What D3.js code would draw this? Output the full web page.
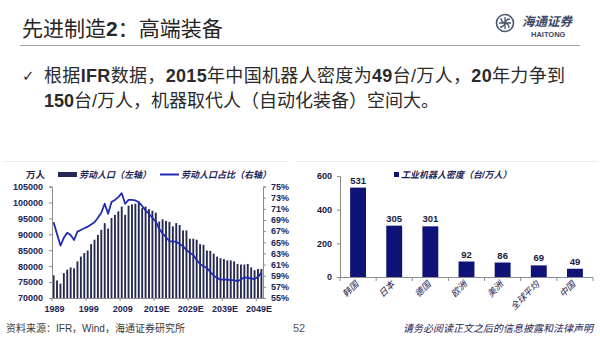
<!DOCTYPE html>
<html><head><meta charset="utf-8">
<script src="https://cdn.jsdelivr.net/npm/d3@7"></script>
<style>body{margin:0;background:#fff;}svg{display:block;}</style>
</head><body>
<script>
// ---------------- data ----------------
const years = [1989,1990,1991,1992,1993,1994,1995,1996,1997,1998,1999,2000,2001,2002,2003,2004,2005,2006,2007,2008,2009,2010,2011,2012,2013,2014,2015,2016,2017,2018,2019,2020,2021,2022,2023,2024,2025,2026,2027,2028,2029,2030,2031,2032,2033,2034,2035,2036,2037,2038,2039,2040,2041,2042,2043,2044,2045,2046,2047,2048,2049,2050];
const laborPop = [77100,75500,74500,77800,78900,79600,79300,81500,83000,84100,84900,86900,88300,89800,91400,93500,91800,95100,96100,97200,98700,96100,99000,99400,99600,99800,98200,98700,97900,97400,96800,94000,94700,94200,93900,92500,93500,92900,91200,91200,88600,88600,88300,86900,86700,84900,84800,83900,83000,82500,82200,81800,81800,81500,80700,80500,80500,80700,79600,78700,79100,79100];
const laborShare = [68.6,66.5,64.4,65.8,66.7,66.3,65.4,66.9,67.2,67.5,67.8,68.2,68.6,69.4,70.3,71.9,70.1,72.2,72.6,73.1,73.8,71.9,72.6,72.6,72.5,72.2,71.5,70.7,70.1,69.4,68.7,67.4,66.6,65.9,65.2,65.1,65.1,64.7,64.3,63.6,63.1,62.7,61.8,61.1,60.7,60.4,59.7,59.0,58.6,58.3,58.3,58.3,58.2,58.2,58.0,58.3,58.7,58.6,58.5,58.4,58.8,59.5];
const xTickYears = [1989,1999,2009,2019,2029,2039,2049];
const xTickLabels = ["1989","1999","2009","2019E","2029E","2039E","2049E"];
const leftTicks = [70000,75000,80000,85000,90000,95000,100000,105000];
const rightTicks = [55,57,59,61,63,65,67,69,71,73,75];

const regions = ["韩国","日本","德国","欧洲","美洲","全球平均","中国"];
const density = [531,305,301,92,86,69,49];
const densityTicks = [0,200,400,600];

// ---------------- setup ----------------
const W = 600, H = 338;
const svg = d3.select("body").append("svg").attr("width", W).attr("height", H);
const CJK = "'Liberation Sans','Noto Sans CJK SC',sans-serif";
const navy = "#1b2456";

// header
svg.append("text").attr("x", 22).attr("y", 36)
  .attr("font-family", CJK).attr("font-size", 21).attr("fill", "#262626")
  .call(t => {
    t.append("tspan").text("先进制造");
    t.append("tspan").attr("font-weight", "bold").text("2");
    t.append("tspan").text("：高端装备");
  });
svg.append("line").attr("x1", 20).attr("x2", 580).attr("y1", 45.5).attr("y2", 45.5)
  .attr("stroke", "#a6a6a6").attr("stroke-width", 1);

// logo
const logo = svg.append("g").attr("transform", "translate(505,23)");
logo.append("circle").attr("r", 8.5).attr("fill", "none").attr("stroke", "#4a5670").attr("stroke-width", 1.6);
logo.append("path").attr("d", "M-6,0 H6 M0,-6 V6 M-4,-5 Q-4,-1 0,0 M4,5 Q4,1 0,0 M5,-4 Q1,-4 0,0 M-5,4 Q-1,4 0,0")
  .attr("fill", "none").attr("stroke", "#4a5670").attr("stroke-width", 1.3);
svg.append("text").attr("x", 522).attr("y", 26).attr("font-family", CJK)
  .attr("font-size", 12.5).attr("font-style", "italic").attr("font-weight", "bold")
  .attr("fill", "#3c4866").text("海通证券");
svg.append("text").attr("x", 531).attr("y", 37).attr("font-family", "'Liberation Sans',sans-serif")
  .attr("font-size", 7.5).attr("font-weight", "bold").attr("fill", "#3c4866").text("HAITONG");

// bullet text
svg.append("text").attr("x", 22).attr("y", 81).attr("font-family", "'DejaVu Sans',sans-serif")
  .attr("font-size", 15).attr("fill", "#333").text("✓");
function richLine(y, segs, len) {
  const t = svg.append("text").attr("x", 44).attr("y", y)
    .attr("font-family", CJK).attr("font-size", 18).attr("fill", "#2b2b2b");
  if (len) t.attr("textLength", len).attr("lengthAdjust", "spacing");
  segs.forEach(s => t.append("tspan").attr("font-weight", s[1] ? "bold" : "normal").text(s[0]));
  return t;
}
richLine(82, [["根据",0],["IFR",1],["数据，",0],["2015",1],["年中国机器人密度为",0],["49",1],["台/万人，",0],["20",1],["年力争到",0]], 521);
richLine(107, [["150",1],["台/万人，机器取代人（自动化装备）空间大。",0]]);

// faint chart frame tops
svg.append("line").attr("x1", 4).attr("x2", 288).attr("y1", 161.5).attr("y2", 161.5).attr("stroke", "#ececec");
svg.append("line").attr("x1", 296).attr("x2", 598).attr("y1", 161.5).attr("y2", 161.5).attr("stroke", "#ececec");

// ---------------- left chart ----------------
const xL = d3.scaleBand().domain(years).range([52, 263]).paddingInner(0.45).paddingOuter(0.2);
const yL = d3.scaleLinear().domain([70000, 105000]).range([298, 186.5]);
const yS = d3.scaleLinear().domain([55, 75]).range([298, 186.5]);
const axisFont = g => g.selectAll("text").attr("font-family", "'Liberation Sans',sans-serif")
  .attr("font-size", 9).attr("font-weight", "bold").attr("fill", navy);

svg.append("g").selectAll("rect").data(years).join("rect")
  .attr("x", d => xL(d)).attr("width", xL.bandwidth())
  .attr("y", (d, i) => yL(laborPop[i])).attr("height", (d, i) => yL(70000) - yL(laborPop[i]))
  .attr("fill", "#25284f");

const lineGen = d3.line().x((d, i) => xL(years[i]) + xL.bandwidth() / 2).y(d => yS(d));
svg.append("path").datum(laborShare).attr("d", lineGen)
  .attr("fill", "none").attr("stroke", "#1f2bb0").attr("stroke-width", 1.8).attr("stroke-linejoin", "round");

const gLa = svg.append("g").attr("transform", "translate(52,0)")
  .call(d3.axisLeft(yL).tickValues(leftTicks).tickFormat(d => d).tickSize(3).tickPadding(6));
const gRa = svg.append("g").attr("transform", "translate(263,0)")
  .call(d3.axisRight(yS).tickValues(rightTicks).tickFormat(d => d + "%").tickSize(3).tickPadding(5));
const gBa = svg.append("g").attr("transform", "translate(0,298)")
  .call(d3.axisBottom(xL).tickValues(xTickYears).tickFormat((d, i) => xTickLabels[i]).tickSize(0).tickPadding(8));
[gLa, gRa, gBa].forEach(g => { axisFont(g); g.selectAll("path,line").attr("stroke", "#8c8c8c"); });
gBa.selectAll(".tick").attr("transform", d => `translate(${xL(d) + xL.bandwidth() / 2 + 1},0)`);
svg.append("g").selectAll("line").data(xTickYears).join("line")
  .attr("x1", d => xL(d) - xL.step() * xL.paddingInner() / 2).attr("x2", d => xL(d) - xL.step() * xL.paddingInner() / 2)
  .attr("y1", 298).attr("y2", 301).attr("stroke", "#8c8c8c");

// left legend
svg.append("text").attr("x", 26).attr("y", 178).attr("font-family", CJK).attr("font-size", 9.5)
  .attr("font-weight", "bold").attr("fill", navy).text("万人");
svg.append("rect").attr("x", 58).attr("y", 172).attr("width", 19).attr("height", 5).attr("fill", "#25284f");
svg.append("text").attr("x", 79).attr("y", 178).attr("font-family", CJK).attr("font-size", 9)
  .attr("font-style", "italic").attr("font-weight", "bold").attr("fill", navy).text("劳动人口（左轴）");
svg.append("line").attr("x1", 160).attr("x2", 179).attr("y1", 174.5).attr("y2", 174.5)
  .attr("stroke", "#1f2bb0").attr("stroke-width", 2);
svg.append("text").attr("x", 181).attr("y", 178).attr("font-family", CJK).attr("font-size", 9)
  .attr("font-style", "italic").attr("font-weight", "bold").attr("fill", navy).text("劳动人口占比（右轴）");

// ---------------- right chart ----------------
const xR = d3.scaleBand().domain(regions).range([340, 593]).paddingInner(0.56).paddingOuter(0.28);
const yR = d3.scaleLinear().domain([0, 600]).range([277, 176]);

svg.append("g").selectAll("rect").data(regions).join("rect")
  .attr("x", d => xR(d)).attr("width", xR.bandwidth())
  .attr("y", (d, i) => yR(density[i])).attr("height", (d, i) => yR(0) - yR(density[i]))
  .attr("fill", "#0f1378");
svg.append("g").selectAll("text").data(regions).join("text")
  .attr("x", d => xR(d) + xR.bandwidth() / 2).attr("y", (d, i) => yR(density[i]) - 4)
  .attr("text-anchor", "middle").attr("font-family", "'Liberation Sans',sans-serif")
  .attr("font-size", 9.5).attr("font-weight", "bold").attr("fill", "#1a1a40").text((d, i) => density[i]);

const gRy = svg.append("g").attr("transform", "translate(340,0)")
  .call(d3.axisLeft(yR).tickValues(densityTicks).tickSize(3).tickPadding(5));
axisFont(gRy); gRy.selectAll("text").attr("fill", "#1a1a40");
gRy.selectAll("path,line").attr("stroke", "#8c8c8c");
svg.append("line").attr("x1", 340).attr("x2", 593).attr("y1", 277.5).attr("y2", 277.5).attr("stroke", "#8c8c8c");
const bounds = regions.map(d => xR(d) - xR.step() * xR.paddingInner() / 2).concat([593]);
bounds[0] = 340;
svg.append("g").selectAll("line").data(bounds).join("line")
  .attr("x1", d => d).attr("x2", d => d).attr("y1", 277.5).attr("y2", 281).attr("stroke", "#8c8c8c");
svg.append("g").selectAll("text").data(regions).join("text")
  .attr("transform", d => `translate(${xR(d) + xR.bandwidth() / 2 + 1},285) rotate(-45)`)
  .attr("text-anchor", "end").attr("font-family", CJK).attr("font-size", 9)
  .attr("font-style", "italic").attr("fill", navy).text(d => d);

// right legend
svg.append("rect").attr("x", 394).attr("y", 172).attr("width", 5).attr("height", 5).attr("fill", "#0f1378");
svg.append("text").attr("x", 401).attr("y", 178).attr("font-family", CJK).attr("font-size", 9)
  .attr("font-style", "italic").attr("font-weight", "bold").attr("fill", navy).text("工业机器人密度（台/万人）");

// ---------------- footer ----------------
svg.append("text").attr("x", 6).attr("y", 332).attr("font-family", CJK).attr("font-size", 10)
  .attr("fill", "#3a3a3a").text("资料来源：IFR，Wind，海通证券研究所");
svg.append("text").attr("x", 293).attr("y", 332).attr("font-family", "'Liberation Sans',sans-serif")
  .attr("font-size", 11).attr("fill", "#555").text("52");
svg.append("text").attr("x", 593).attr("y", 332).attr("text-anchor", "end").attr("font-family", CJK)
  .attr("font-size", 10).attr("font-style", "italic").attr("fill", "#1e2350").text("请务必阅读正文之后的信息披露和法律声明");
</script>
</body></html>
